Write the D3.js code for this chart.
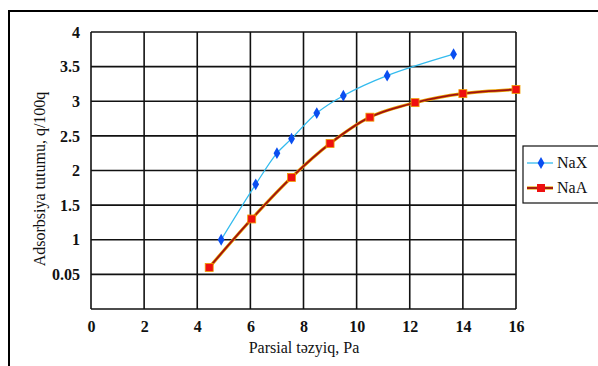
<!DOCTYPE html>
<html><head><meta charset="utf-8">
<script src="https://cdn.jsdelivr.net/npm/d3@7"></script>
<style>body{margin:0;background:#fff} svg text{font-family:"Liberation Serif","DejaVu Serif","Times New Roman",serif;}</style>
</head><body>
<script>
const xTicks = [0,2,4,6,8,10,12,14,16];
const yTicks = [0,0.5,1,1.5,2,2.5,3,3.5,4];
const yTickLabels = ["", "0.05", "1", "1.5", "2", "2.5", "3", "3.5", "4"];
const naxX = [4.9, 6.2, 7.0, 7.55, 8.5, 9.5, 11.15, 13.65];
const naxY = [1.0, 1.8, 2.25, 2.46, 2.83, 3.08, 3.37, 3.68];
const naaX = [4.45, 6.05, 7.55, 9.0, 10.5, 12.2, 14.0, 16.0];
const naaY = [0.6, 1.3, 1.9, 2.39, 2.77, 2.98, 3.11, 3.17];
const seriesNames = ["NaX", "NaA"];

const W = 598, H = 366;
const svg = d3.select("body").append("svg").attr("width", W).attr("height", H);
const font = '"Liberation Serif","DejaVu Serif","Times New Roman",serif';

svg.append("rect").attr("x", 9).attr("y", 11).attr("width", 640).attr("height", 400)
  .attr("fill", "none").attr("stroke", "#000").attr("stroke-width", 2);

const x = d3.scaleLinear().domain([0,16]).range([91, 516]);
const y = d3.scaleLinear().domain([0,4]).range([309, 32]);

const g = svg.append("g");
g.selectAll(".vg").data(xTicks).join("line")
  .attr("x1", d=>x(d)).attr("x2", d=>x(d)).attr("y1", y(0)).attr("y2", y(4))
  .attr("stroke", "#111").attr("stroke-width", 1.6);
g.selectAll(".hg").data(yTicks).join("line")
  .attr("x1", x(0)).attr("x2", x(16)).attr("y1", d=>y(d)).attr("y2", d=>y(d))
  .attr("stroke", "#111").attr("stroke-width", 1.6);

const xAxis = d3.axisBottom(x).tickValues(xTicks).tickSize(0).tickPadding(12);
const xa = svg.append("g").attr("transform", `translate(0,${y(0)})`).call(xAxis)
  .attr("font-family", null).attr("font-size", null);
xa.select(".domain").remove();
xa.selectAll("text").style("font-family", font).style("font-size", "16px").style("font-weight", "bold").attr("fill", "#111");

const yAxis = d3.axisLeft(y).tickValues(yTicks).tickSize(0).tickPadding(11)
  .tickFormat((d,i)=>yTickLabels[i]);
const ya = svg.append("g").attr("transform", `translate(${x(0)},0)`).call(yAxis)
  .attr("font-family", null).attr("font-size", null);
ya.select(".domain").remove();
ya.selectAll("text").style("font-family", font).style("font-size", "16px").style("font-weight", "bold").attr("fill", "#111");

svg.append("text").attr("x", 304).attr("y", 353).attr("text-anchor", "middle")
  .style("font-family", font).style("font-size", "16px").attr("fill", "#111").text("Parsial təzyiq, Pa");
svg.append("text").attr("transform", "translate(45,179) rotate(-90)").attr("text-anchor", "middle")
  .style("font-family", font).style("font-size", "16px").attr("fill", "#111").text("Adsorbsiya tutumu, q/100q");

const line = d3.line().x(d=>x(d[0])).y(d=>y(d[1])).curve(d3.curveCatmullRom.alpha(0.5));
const nax = naxX.map((v,i)=>[v, naxY[i]]);
const naa = naaX.map((v,i)=>[v, naaY[i]]);

svg.append("path").attr("d", line(naa)).attr("fill", "none").attr("stroke", "#e8a400").attr("stroke-width", 3.2);
svg.append("path").attr("d", line(naa)).attr("fill", "none").attr("stroke", "#a01010").attr("stroke-width", 1.8);
svg.append("path").attr("d", line(nax)).attr("fill", "none").attr("stroke", "#33bbee").attr("stroke-width", 1.3);

const diamond = d3.symbol().type(d3.symbolDiamond).size(40);
svg.selectAll(".dx").data(nax).join("path")
  .attr("d", diamond).attr("transform", d=>`translate(${x(d[0])},${y(d[1])})`).attr("fill", "#0a4ef0");
svg.selectAll(".sa").data(naa).join("rect")
  .attr("x", d=>x(d[0])-4).attr("y", d=>y(d[1])-4).attr("width", 8).attr("height", 8)
  .attr("fill", "#ee1010").attr("stroke", "#f0a000").attr("stroke-width", 0.8);

const lg = svg.append("g");
lg.append("rect").attr("x", 523).attr("y", 146).attr("width", 100).attr("height", 57)
  .attr("fill", "#fff").attr("stroke", "#111").attr("stroke-width", 1.2);
const ly = [163, 188];
lg.append("line").attr("x1", 527).attr("x2", 553).attr("y1", ly[0]).attr("y2", ly[0]).attr("stroke", "#33bbee").attr("stroke-width", 1.3);
lg.append("path").attr("d", diamond).attr("transform", `translate(541,${ly[0]})`).attr("fill", "#0a4ef0");
lg.append("line").attr("x1", 527).attr("x2", 553).attr("y1", ly[1]).attr("y2", ly[1]).attr("stroke", "#e8a400").attr("stroke-width", 3.2);
lg.append("line").attr("x1", 527).attr("x2", 553).attr("y1", ly[1]).attr("y2", ly[1]).attr("stroke", "#a01010").attr("stroke-width", 1.8);
lg.append("rect").attr("x", 537).attr("y", ly[1]-4).attr("width", 8).attr("height", 8).attr("fill", "#ee1010");
lg.selectAll(".lt").data(seriesNames).join("text")
  .attr("x", 557).attr("y", (d,i)=>ly[i]+5).style("font-family", font).style("font-size", "16px").attr("fill", "#111").text(d=>d);
</script>
</body></html>
